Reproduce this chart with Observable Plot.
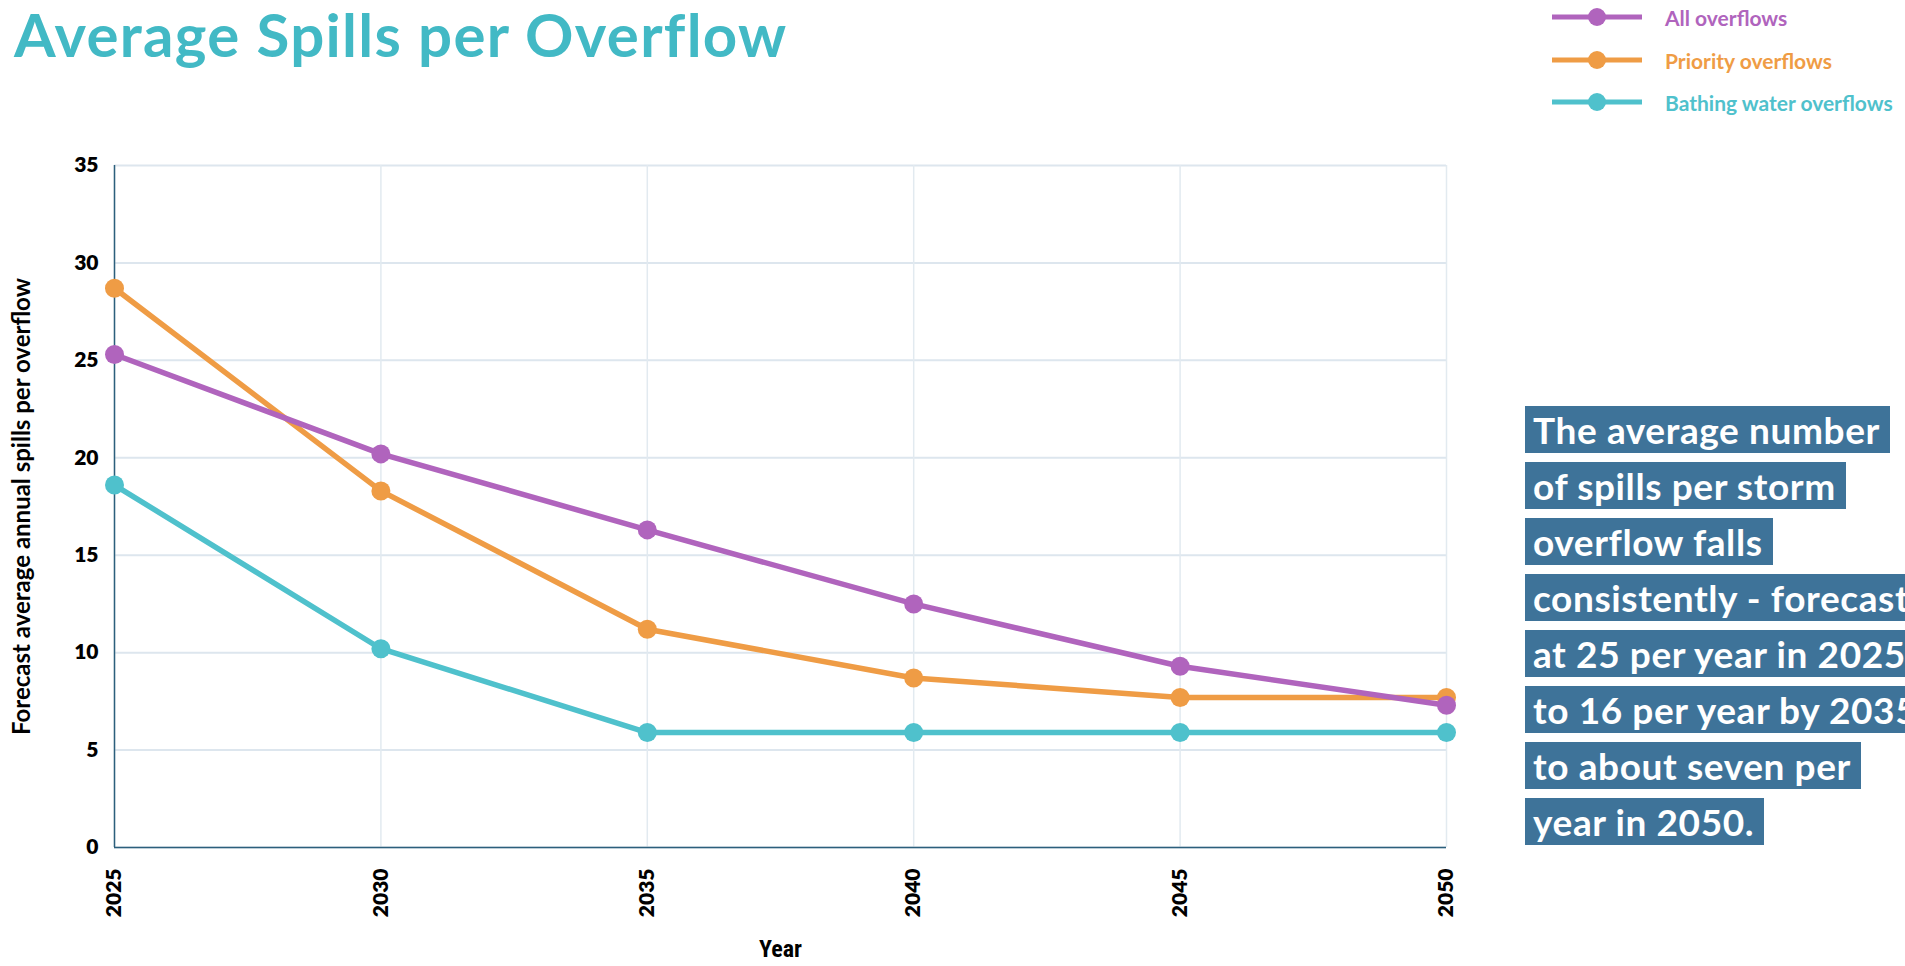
<!DOCTYPE html>
<html>
<head>
<meta charset="utf-8">
<script src="https://cdn.jsdelivr.net/npm/d3@7"></script>
<script src="https://cdn.jsdelivr.net/npm/@observablehq/plot@0.6"></script>
<style>
  html, body { margin: 0; padding: 0; background: #fff; overflow: hidden; }
  #wrap { position: relative; width: 1905px; height: 966px; overflow: hidden; font-family: Lato, "Open Sans", sans-serif; }
  #chart { position: absolute; left: 0; top: 0; }
  #title { position: absolute; left: 14px; top: 2px; font-size: 60px; line-height: 64px; font-weight: 700; color: #42b9c5; white-space: nowrap; letter-spacing: 1.3px; }
  #legend { position: absolute; left: 1552px; top: 0; }
  .lg-row { position: absolute; left: 0; height: 24px; display: flex; align-items: center; white-space: nowrap; }
  .lg-row span { position: absolute; left: 113px; font-size: 21px; font-weight: 700; }
  #note { position: absolute; left: 1525px; top: 406px; }
  .note-line { width: fit-content; white-space: nowrap; background: #3e7399; color: #fff; font-size: 37px; letter-spacing: 0.6px; font-weight: 700; height: 47px; line-height: 47px; padding: 0 10px 0 8px; margin-bottom: 9px; }
</style>
</head>
<body>
<div id="wrap">
  <div id="chart"></div>
  <div id="title"></div>
  <div id="legend"></div>
  <div id="note"></div>
</div>
<script>
const titleText = "Average Spills per Overflow";
const years = [2025, 2030, 2035, 2040, 2045, 2050];
const allOverflows = [25.3, 20.2, 16.3, 12.5, 9.3, 7.3];
const priorityOverflows = [28.7, 18.3, 11.2, 8.7, 7.7, 7.7];
const bathingOverflows = [18.6, 10.2, 5.9, 5.9, 5.9, 5.9];
const seriesNames = ["All overflows", "Priority overflows", "Bathing water overflows"];
const seriesColors = ["#b064bd", "#ef9c45", "#4fc1cc"];
const yTicks = [0, 5, 10, 15, 20, 25, 30, 35];
const yLabel = "Forecast average annual spills per overflow";
const xLabel = "Year";
const noteLines = [
  "The average number",
  "of spills per storm",
  "overflow falls",
  "consistently - forecast",
  "at 25 per year in 2025,",
  "to 16 per year by 2035,",
  "to about seven per",
  "year in 2050."
];

const seriesValues = [allOverflows, priorityOverflows, bathingOverflows];
// draw bathing first, all overflows last (on top)
const drawOrder = [2, 1, 0];
const data = drawOrder.flatMap(i => years.map((year, j) => ({year, value: seriesValues[i][j], series: seriesNames[i]})));

const chart = Plot.plot({
  width: 1905,
  height: 966,
  marginLeft: 114,
  marginRight: 459,
  marginTop: 165,
  marginBottom: 119,
  style: {fontFamily: "Lato, 'Open Sans', sans-serif", background: "transparent", color: "#000", overflow: "visible"},
  x: {domain: [2025, 2050], label: null},
  y: {domain: [0, 35], label: null},
  color: {domain: seriesNames, range: seriesColors},
  marks: [
    Plot.gridY(yTicks, {stroke: "#dde6ee", strokeOpacity: 1, strokeWidth: 2}),
    Plot.gridX(years, {stroke: "#e2eaf0", strokeOpacity: 1, strokeWidth: 1.5}),
    Plot.ruleY([0], {stroke: "#2c5f7c", strokeWidth: 1.5}),
    Plot.ruleX([2025], {stroke: "#2c5f7c", strokeWidth: 1.5}),
    Plot.line(data, {x: "year", y: "value", z: "series", stroke: "series", strokeWidth: 5.5}),
    Plot.dot(data, {x: "year", y: "value", fill: "series", r: 9.5}),
    Plot.axisY(yTicks, {tickSize: 0, tickPadding: 16, fontSize: 21, fontWeight: 800, fill: "#000", label: null}),
    Plot.axisX(years, {tickSize: 0, tickPadding: 21, tickRotate: -90, tickFormat: d => String(d), fontSize: 21, fontWeight: 800, fill: "#000", label: null}),
    Plot.text([yLabel], {text: d => d, frameAnchor: "left", textAnchor: "middle", rotate: -90, dx: -92, fontSize: 24, fontWeight: 700, fill: "#000"}),
    Plot.text([xLabel], {text: d => d, frameAnchor: "bottom", textAnchor: "middle", dy: 109, fontSize: 24, fontWeight: 700, fill: "#000", fontFamily: "'Liberation Sans Narrow', 'Roboto Condensed', Lato, sans-serif"})
  ]
});
document.getElementById("chart").appendChild(chart);

document.getElementById("title").textContent = titleText;

const legendTops = [5, 48, 90];
const legend = document.getElementById("legend");
seriesNames.forEach((name, i) => {
  const row = document.createElement("div");
  row.className = "lg-row";
  row.style.top = legendTops[i] + "px";
  row.innerHTML = `<svg width="92" height="24"><line x1="0" y1="12" x2="90" y2="12" stroke="${seriesColors[i]}" stroke-width="5"/><circle cx="45" cy="12" r="9" fill="${seriesColors[i]}"/></svg><span style="color:${seriesColors[i]}">${name}</span>`;
  legend.appendChild(row);
});

const note = document.getElementById("note");
noteLines.forEach(t => {
  const d = document.createElement("div");
  d.className = "note-line";
  d.textContent = t;
  note.appendChild(d);
});
</script>
</body>
</html>
